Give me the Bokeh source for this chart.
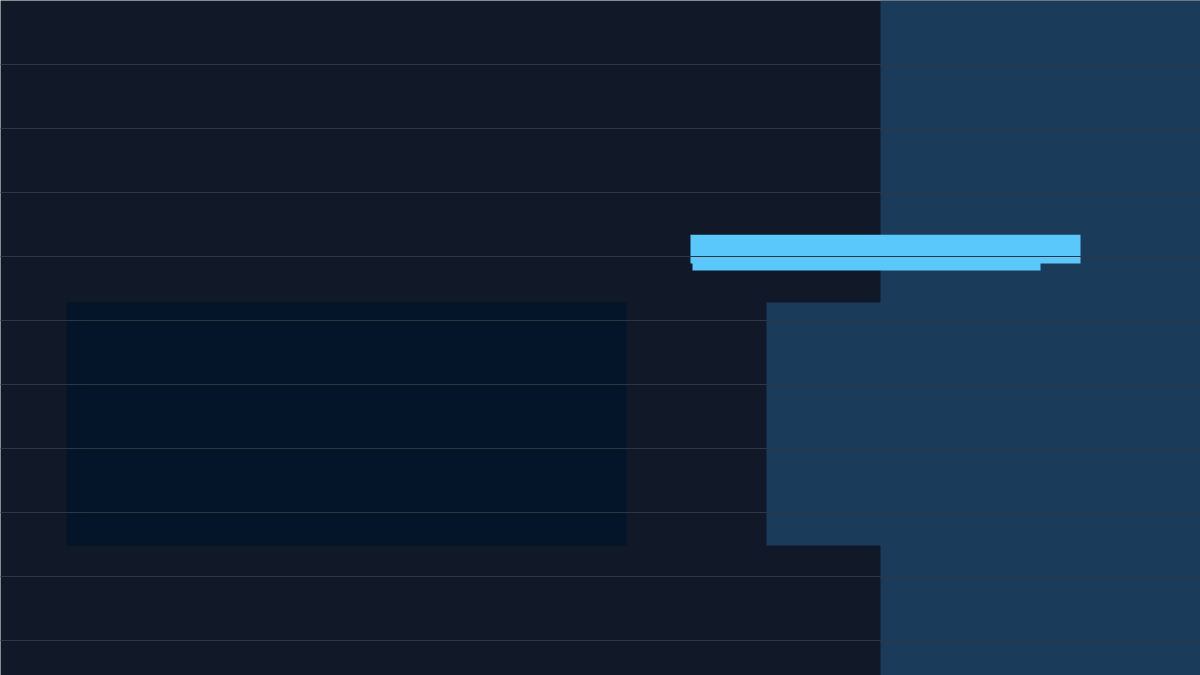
from bokeh.plotting import figure
from bokeh.models import Range1d, FixedTicker
from bokeh.embed import file_html
from bokeh.resources import INLINE

# Shaded regions (x in tenths-of-width units 0..120, y in grid rows 0..10.55, downward)
band_left = [88.0, 76.6, 6.6]
band_right = [120.0, 120.0, 62.6]
band_top = [0.0, 4.72, 4.72]
band_bottom = [10.55, 8.52, 8.52]
band_colors = ["#1a3c5a", "#1a3c5a", "#041529"]

# Highlight bars
bar_left = [69.2, 69.0]
bar_right = [104.0, 108.0]
bar_top = [4.02, 3.66]
bar_bottom = [4.22, 4.11]
bar_color = "#5ac8fa"

grid_rows = list(range(11))

p = figure(width=1200, height=675, output_backend="svg", toolbar_location=None,
           x_range=Range1d(0, 120), y_range=Range1d(10.55, 0),
           background_fill_color="#111827", border_fill_color="#111827",
           min_border=0, outline_line_color=None)

p.quad(left=band_left, right=band_right, top=band_top, bottom=band_bottom,
       fill_color=band_colors, line_color=None)
p.quad(left=bar_left, right=bar_right, top=bar_top, bottom=bar_bottom,
       fill_color=bar_color, line_color=None)

p.axis.visible = False
p.xgrid.visible = False
p.ygrid.ticker = FixedTicker(ticks=grid_rows)
p.ygrid.grid_line_color = "#2e3545"
p.ygrid.grid_line_width = 1
p.ygrid.level = "overlay"

open("out.html", "w").write(file_html(p, INLINE))
